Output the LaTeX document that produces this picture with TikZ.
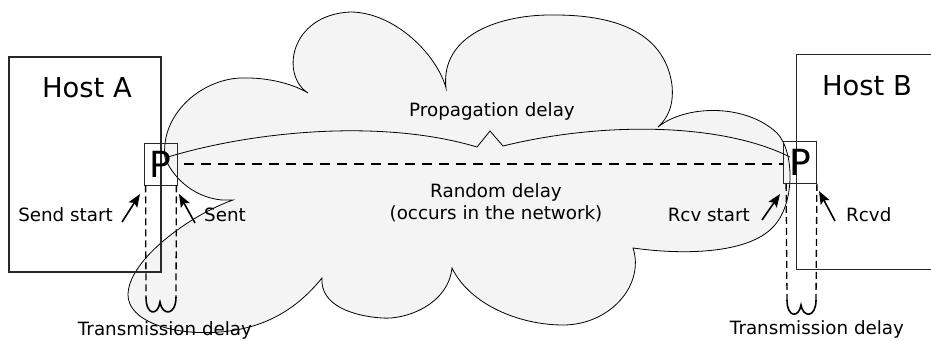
\documentclass[tikz,border=0pt]{standalone}
\usepackage{fontspec}
\setmainfont{DejaVu Sans}
\usetikzlibrary{arrows.meta}
\definecolor{cloudgray}{RGB}{244,244,244}
\definecolor{boxline}{RGB}{40,40,40}
\tikzset{
  lbl/.style={inner sep=0pt, font=\fontsize{18.3}{22}\selectfont},
  hostname/.style={inner sep=0pt, font=\fontsize{27.4}{32}\selectfont},
  hostbox/.style={draw=boxline, line width=1.3pt},
  pbox/.style={draw=boxline, line width=0.8pt, minimum width=33pt, minimum height=42pt,
    inner sep=0pt, font=\fontsize{36}{40}\selectfont},
  cloud line/.style={draw=black, line width=0.8pt},
  guide/.style={line width=1.3pt, dash pattern=on 7pt off 4pt},
  wire/.style={line width=1.3pt, dash pattern=on 10pt off 7pt},
  pointer/.style={line width=1.6pt, -{Stealth[length=13pt,width=10pt,inset=2.5pt]}},
  brace tip/.style={line width=1.6pt},
}
\begin{document}
\begin{tikzpicture}[x=1pt,y=-1pt]
\clip (0,0) rectangle (931,340);

% network cloud
\path[fill=cloudgray, cloud line]
  (233,200) -- (222,200)
  .. controls (198,198) and (175,182) .. (165,158)
  .. controls (160,115) and (200,80) .. (240,78)
  .. controls (270,77) and (295,85) .. (308,93)
  .. controls (280,75) and (290,15) .. (350,12)
  .. controls (395,12) and (437,55) .. (446,88)
  .. controls (440,35) and (500,14) .. (555,15)
  .. controls (620,15) and (665,35) .. (672,85)
  .. controls (674,105) and (668,118) .. (658,127)
  .. controls (685,105) and (745,103) .. (777,133)
  .. controls (795,152) and (795,205) .. (773,227)
  .. controls (750,252) and (690,256) .. (633,248)
  .. controls (645,285) and (610,325) .. (563,325)
  .. controls (520,325) and (470,305) .. (452,268)
  .. controls (448,305) and (405,320) .. (382,318)
  .. controls (352,316) and (320,305) .. (322,278)
  .. controls (300,305) and (270,328) .. (220,332)
  .. controls (170,336) and (128,320) .. (128,295)
  .. controls (128,260) and (190,215) .. (233,200)
  -- cycle;

% hosts
\node[hostbox, minimum width=152pt, minimum height=215pt, inner sep=0pt] (hostA) at (85,164.5) {};
\node[hostbox, minimum width=160pt, minimum height=215pt, inner sep=0pt, anchor=north west] (hostB) at (796,54) {};
\node[hostname] (nameA) at (87,88) {Host A};
\node[hostname] (nameB) at (867,86) {Host B};

% packets at each interface
\node[pbox] (pA) at (160.5,164) {P};
\node[pbox] (pB) at (800,162.5) {P};

% propagation brace between the two packets
\coordinate (propL) at (168,157);
\coordinate (propR) at (790,157);
\draw[cloud line] (propL)
  .. controls (250,132) and (380,118) .. (477,147) -- (490,131) -- (503,146)
  .. controls (600,122) and (720,122) .. (propR);
\node[lbl] (prop) at (492,111) {Propagation delay};

% dashed path through the network
\draw[wire] (pA.east) ++(7,0) coordinate (wireL) -- (pA.east -| pB.west);

\node[lbl] (rand1) at (496,192) {Random delay};
\node[lbl] (rand2) at (496,214) {(occurs in the network)};

% transmission time guides
\coordinate (gA1) at (146,297);
\coordinate (gA2) at (176,297);
\coordinate (gB1) at (787,300);
\coordinate (gB2) at (816,300);
\draw[guide] (pA.south west) ++(2,0) -- (gA1);
\draw[guide] (pA.south east) ++(-1,0) -- (gA2);
\draw[guide] (pB.south west) ++(3,0) -- (gB1);
\draw[guide] (pB.south east) -- (gB2);
\draw[brace tip] (gA1) .. controls (146,316) and (158,316) .. (160,302)
  .. controls (162,316) and (176,316) .. (gA2);
\draw[brace tip] (gB1) .. controls (787,318) and (799,318) .. (801,305)
  .. controls (803,318) and (816,318) .. (gB2);

\node[lbl] (txA) at (165,330) {Transmission delay};
\node[lbl] (txB) at (817,329) {Transmission delay};

% event labels and pointers
\node[lbl, anchor=east] (sendstart) at (113,215) {Send start};
\node[lbl, anchor=west] (sent) at (204,215) {Sent};
\node[lbl, anchor=east] (rcvstart) at (750,215) {Rcv start};
\node[lbl, anchor=west] (rcvd) at (846,215) {Rcvd};

\coordinate (ssTail) at (122,222);
\coordinate (ssTip) at (140,194);
\coordinate (stTail) at (195,223);
\coordinate (stTip) at (179,194);
\coordinate (rsTail) at (762,220);
\coordinate (rsTip) at (780,194);
\coordinate (rdTail) at (835,221);
\coordinate (rdTip) at (819,191);
\draw[pointer] (ssTail) -- (ssTip);
\draw[pointer] (stTail) -- (stTip);
\draw[pointer] (rsTail) -- (rsTip);
\draw[pointer] (rdTail) -- (rdTip);
\end{tikzpicture}
\end{document}
